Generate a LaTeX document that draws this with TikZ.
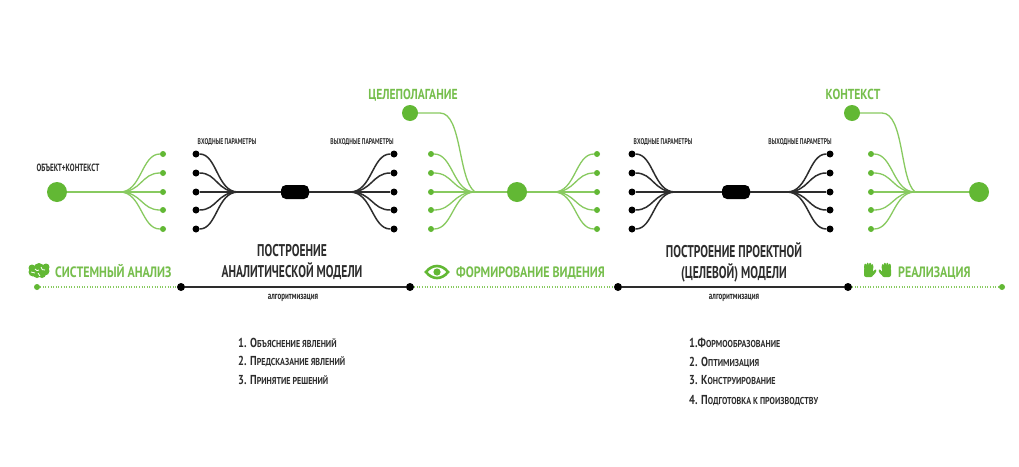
\documentclass[tikz,border=0pt]{standalone}
\usepackage{fontspec}
\setmainfont{PT Sans}[FakeStretch=0.68]
\newfontfamily\widef{PT Sans}[FakeStretch=0.8]
\definecolor{gr}{RGB}{98,184,52}
\definecolor{grl}{RGB}{136,202,96}
\definecolor{grt}{RGB}{118,190,76}
\definecolor{dk}{RGB}{45,45,45}
\newcommand\fsc[2]{{\fontsize{13}{14}\selectfont #1}{\fontsize{10}{11}\selectfont #2}}
\newcommand\myfan[5]{%
  \coordinate (#3c) at (#1,192);
  \foreach \yy [count=\i] in {154,173,192,210,229}{
    \node[#5] (#3\i) at (#2,\yy) {};
    \pgfmathsetmacro\mx{(#1+#2)/2}
    \draw[#4] (#3c) .. controls (\mx,192) and (\mx,\yy) .. (#3\i);
  }}
\newcommand\myhand[1]{% #1 = 1 (thumb right) or -1 (thumb left)
  \begin{scope}[xscale=#1]
  \fill[gr,rounded corners=2pt] (-5,-2) rectangle (4,7);
  \fill[gr] (-3.7,-3) ellipse (1.3 and 3.4) (-1.3,-3.7) ellipse (1.3 and 3.6)
            (1.1,-3.7) ellipse (1.3 and 3.6) (3.2,-2.8) ellipse (1.2 and 3.1);
  \fill[gr,rotate around={-35:(5,2.5)}] (5,2.5) ellipse (1.4 and 3.6);
  \end{scope}}
\tikzset{
  bigdot/.style={circle,fill=gr,minimum size=20pt,inner sep=0pt},
  meddot/.style={circle,fill=gr,minimum size=16pt,inner sep=0pt},
  gdot/.style={circle,fill=gr,minimum size=6pt,inner sep=0pt},
  kdot/.style={circle,fill=black,minimum size=7pt,inner sep=0pt},
  gfan/.style={draw=grl,line width=1.3pt},
  kfan/.style={draw=dk,line width=1.5pt},
  capsule/.style={rectangle,rounded corners=5pt,fill=black,minimum width=28pt,minimum height=14pt,inner sep=0pt},
  smalllab/.style={font=\bfseries\fontsize{8.3}{9}\selectfont,text=dk,inner sep=0pt},
  glab/.style={font=\widef\bfseries\fontsize{15}{16}\selectfont,text=grt,inner sep=0pt,anchor=base west},
  gtop/.style={font=\widef\bfseries\fontsize{14.5}{16}\selectfont,text=grt,inner sep=0pt,anchor=base},
  head/.style={font=\bfseries\fontsize{17}{21}\selectfont,text=dk,align=center,inner sep=0pt},
  algo/.style={font=\bfseries\fontsize{10.3}{12}\selectfont,text=dk,inner sep=0pt},
  item/.style={text=dk,anchor=base west,inner sep=0pt,font=\widef\bfseries},
  gdots/.style={draw=grl,line width=1.6pt,dash pattern=on 1pt off 1.6pt},
  kline/.style={draw=dk,line width=2.4pt},
  tdot/.style={circle,fill=black,minimum size=8pt,inner sep=0pt},
  tgdot/.style={circle,fill=gr,minimum size=6pt,inner sep=0pt},
}
\begin{document}
\begin{tikzpicture}[x=1pt,y=-1pt]
\useasboundingbox (0,0) rectangle (1019,466);
\fill[white] (0,0) rectangle (1019,466);

% ---- left part
\node[bigdot] (start) at (57,192) {};
\node[smalllab,font=\bfseries\fontsize{10.5}{11}\selectfont] (objlab) at (68,168) {ОБЪЕКТ+КОНТЕКСТ};
\myfan{120}{163}{a}{gfan}{gdot}
\draw[gfan] (start) -- (ac);

% ---- first model
\myfan{238}{196}{b}{kfan}{kdot}
\myfan{350}{394}{d}{kfan}{kdot}
\node[capsule] (cap1) at (295,192) {};
\draw[kfan] (bc) -- (cap1);
\draw[kfan] (cap1) -- (dc);
\node[smalllab] (in1) at (227,142) {ВХОДНЫЕ ПАРАМЕТРЫ};
\node[smalllab] (out1) at (362,142) {ВЫХОДНЫЕ ПАРАМЕТРЫ};

% ---- goal setting
\node[meddot] (goal) at (410,113) {};
\node[gtop] (goallab) at (413,99) {ЦЕЛЕПОЛАГАНИЕ};
\myfan{475}{431}{e}{gfan}{gdot}
\draw[gfan] (goal) -- (440,113) .. controls (462,113) and (458,180) .. (ec);
\node[bigdot] (vision) at (517,192) {};
\myfan{554}{597}{f}{gfan}{gdot}
\draw[gfan] (ec) -- (vision);
\draw[gfan] (vision) -- (fc);

% ---- second model
\myfan{675}{632}{g}{kfan}{kdot}
\myfan{787}{830}{h}{kfan}{kdot}
\node[capsule] (cap2) at (736,192) {};
\draw[kfan] (gc) -- (cap2);
\draw[kfan] (cap2) -- (hc);
\node[smalllab] (in2) at (663,142) {ВХОДНЫЕ ПАРАМЕТРЫ};
\node[smalllab] (out2) at (800,142) {ВЫХОДНЫЕ ПАРАМЕТРЫ};

% ---- context / realisation
\node[meddot] (ctx) at (852,113) {};
\node[gtop] (ctxlab) at (853,99) {КОНТЕКСТ};
\myfan{915}{871}{k}{gfan}{gdot}
\draw[gfan] (ctx) -- (882,113) .. controls (904,113) and (900,180) .. (kc);
\node[bigdot] (finish) at (979,192) {};
\draw[gfan] (kc) -- (finish);

% ---- headings
\node[head] (h1) at (292,262) {ПОСТРОЕНИЕ\\АНАЛИТИЧЕСКОЙ МОДЕЛИ};
\node[head] (h2) at (734,262) {ПОСТРОЕНИЕ ПРОЕКТНОЙ\\(ЦЕЛЕВОЙ) МОДЕЛИ};

% ---- green stage labels with icons
% brain
\begin{scope}[shift={(39,270)}]
  \fill[gr] (-6,2) circle (4.5) (0,-2) circle (5) (6,1) circle (4.5) (-2,4) circle (4) (3,4) circle (4) (-7,-2) circle (3.5) (7,-3) circle (3.5);
  \draw[white,line width=0.8pt] (-4,-1) .. controls (-2,1) .. (0,0) (2,-3) .. controls (3,0) .. (6,0) (-1,3) -- (1,6) (-8,2) -- (-4,3);
\end{scope}
\node[glab] (sa) at (55,277) {СИСТЕМНЫЙ АНАЛИЗ};
% eye
\begin{scope}[shift={(437,272)}]
  \draw[gr,line width=2.6pt] (-11,0) .. controls (-5,-8) and (5,-8) .. (11,0) .. controls (5,8) and (-5,8) .. (-11,0) -- cycle;
  \fill[gr] (0,0) circle (3.6);
\end{scope}
\node[glab] (fv) at (456,277) {ФОРМИРОВАНИЕ ВИДЕНИЯ};
% hands
\begin{scope}[shift={(869,270)}]\myhand{1}\end{scope}
\begin{scope}[shift={(886,270)}]\myhand{-1}\end{scope}
\node[glab] (re) at (898,277) {РЕАЛИЗАЦИЯ};

% ---- timeline
\node[tgdot] (t0) at (37,287) {};
\node[tdot] (t1) at (181,287) {};
\node[tdot] (t2) at (410,287) {};
\node[tdot] (t3) at (618,287) {};
\node[tdot] (t4) at (848,287) {};
\node[tgdot] (t5) at (1002,287) {};
\draw[gdots] (t0) -- (t1);
\draw[kline] (t1) -- (t2);
\draw[gdots] (t2) -- (t3);
\draw[kline] (t3) -- (t4);
\draw[gdots] (t4) -- (t5);
\node[algo] (al1) at (293,298) {алгоритмизация};
\node[algo] (al2) at (734,298) {алгоритмизация};

% ---- lists
\node[item] (l1) at (238,347) {\fsc{1. О}{БЪЯСНЕНИЕ ЯВЛЕНИЙ}};
\node[item] (l2) at (238,365) {\fsc{2. П}{РЕДСКАЗАНИЕ ЯВЛЕНИЙ}};
\node[item] (l3) at (238,384) {\fsc{3. П}{РИНЯТИЕ РЕШЕНИЙ}};
\node[item] (r1) at (689,347) {\fsc{1.Ф}{ОРМООБРАЗОВАНИЕ}};
\node[item] (r2) at (689,366) {\fsc{2. О}{ПТИМИЗАЦИЯ}};
\node[item] (r3) at (689,384) {\fsc{3. К}{ОНСТРУИРОВАНИЕ}};
\node[item] (r4) at (689,404) {\fsc{4. П}{ОДГОТОВКА К ПРОИЗВОДСТВУ}};
\end{tikzpicture}
\end{document}
